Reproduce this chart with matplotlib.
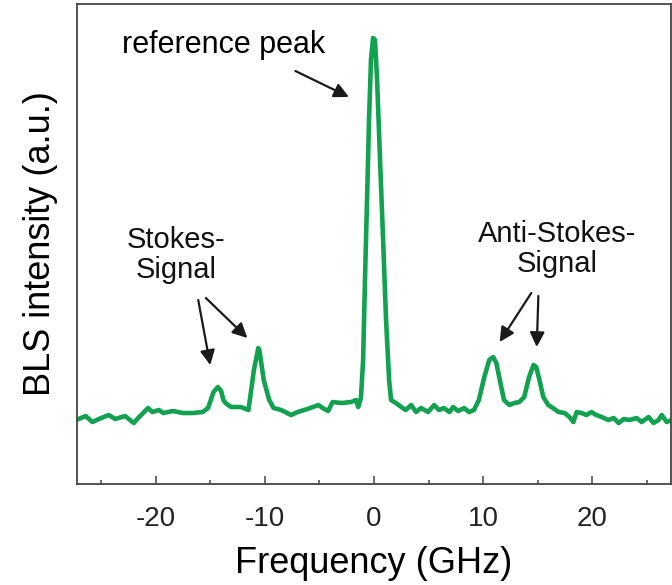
import matplotlib
matplotlib.use("Agg")
import matplotlib.pyplot as plt
from matplotlib.ticker import MultipleLocator

plt.rcParams['font.family'] = ['Liberation Sans', 'DejaVu Sans']
plt.rcParams['axes.unicode_minus'] = False

# BLS spectrum (frequency in GHz, intensity in a.u.)
freq = [-27.3, -26.4, -25.8, -25.2, -24.3, -23.7, -22.8, -22.0, -21.6, -20.7,
        -20.3, -19.7, -19.3, -18.4, -17.5, -16.6, -15.7, -15.2, -14.7, -14.3,
        -14.0, -13.8, -13.6, -13.1, -12.2, -11.5, -11.0, -10.6, -10.5, -10.1,
        -9.6, -9.2, -8.5, -7.6, -7.0, -6.1, -5.1, -4.7, -4.2, -3.8,
        -3.0, -2.1, -1.65, -1.45, -1.2, -1.0, -0.83, -0.64, -0.46, -0.28,
        -0.09, 0.09, 0.28, 0.55, 0.83, 1.10, 1.38, 1.56, 2.0, 2.5,
        2.9, 3.4, 3.85, 4.3, 4.95, 5.5, 5.95, 6.4, 6.9, 7.25,
        7.7, 8.25, 8.7, 9.15, 9.6, 10.1, 10.55, 10.9, 11.2, 11.65,
        11.9, 12.4, 12.85, 13.3, 13.75, 14.2, 14.6, 14.85, 15.15, 15.5,
        15.95, 16.25, 16.9, 17.45, 17.9, 18.25, 18.55, 19.0, 19.45, 19.9,
        20.35, 20.85, 21.45, 21.95, 22.4, 22.85, 23.4, 24.05, 24.5, 25.15,
        25.6, 26.05, 26.35, 26.8, 27.25]
intensity = [64, 68, 62, 65, 69, 65, 68, 61, 66, 76,
             72, 74, 71, 73, 71, 71, 72, 76, 92, 97,
             93, 84, 81, 77, 77, 74, 114, 136, 134, 104,
             84, 76, 74, 69, 72, 75, 79, 76, 73, 82,
             81, 82, 84, 77, 86, 124, 204, 284, 364, 424,
             446, 444, 404, 324, 244, 164, 104, 84, 81, 77,
             74, 79, 72, 76, 72, 79, 74, 76, 72, 77,
             73, 76, 72, 74, 84, 107, 124, 127, 121, 97,
             84, 79, 81, 82, 87, 107, 119, 117, 104, 87,
             79, 77, 72, 71, 67, 62, 72, 71, 69, 72,
             69, 67, 64, 66, 61, 65, 64, 66, 62, 67,
             61, 64, 69, 62, 64]

fig = plt.figure(figsize=(6.72, 5.85), dpi=100)
ax = fig.add_axes([0.1146, 0.1726, 0.884, 0.8206])

ax.plot(freq, intensity, color='#12a150', lw=3.3, solid_joinstyle='round')

ax.set_xlim(-27.2, 27.2)
ax.set_ylim(0, 480)
ax.xaxis.set_major_locator(MultipleLocator(10))
ax.xaxis.set_minor_locator(MultipleLocator(5))
ax.set_yticks([])
ax.tick_params(axis='x', which='major', direction='in', length=6, width=1.1,
               color='#444444', labelsize=20, labelcolor='#222222', pad=16)
ax.tick_params(axis='x', which='minor', direction='in', length=3, width=1.1,
               color='#444444')
for s in ax.spines.values():
    s.set_color('#444444')
    s.set_linewidth(1.3)

ax.set_xlabel('Frequency (GHz)', fontsize=26, labelpad=10)
ax.set_ylabel('BLS intensity (a.u.)', fontsize=26, labelpad=14)

arrow = dict(arrowstyle='-|>', mutation_scale=22, lw=1.6, color='#1a1a1a',
             shrinkA=0, shrinkB=0)

ax.text(-13.8, 431, 'reference peak', fontsize=22, ha='center', va='baseline')
ax.annotate('', xy=(-2.3, 387), xytext=(-7.2, 413), arrowprops=arrow)

ax.text(-18.1, 258, 'Stokes-\nSignal', fontsize=21, ha='center', va='top',
        color='#111111', linespacing=1.1)
ax.annotate('', xy=(-15.0, 119), xytext=(-16.1, 184), arrowprops=arrow)
ax.annotate('', xy=(-11.6, 146), xytext=(-15.4, 186), arrowprops=arrow)

ax.text(16.8, 264, 'Anti-Stokes-\nSignal', fontsize=21, ha='center', va='top',
        color='#111111', linespacing=1.1)
ax.annotate('', xy=(11.5, 142), xytext=(14.4, 191), arrowprops=arrow)
ax.annotate('', xy=(14.9, 137), xytext=(15.05, 188), arrowprops=arrow)

fig.savefig('out.png', dpi=100)
